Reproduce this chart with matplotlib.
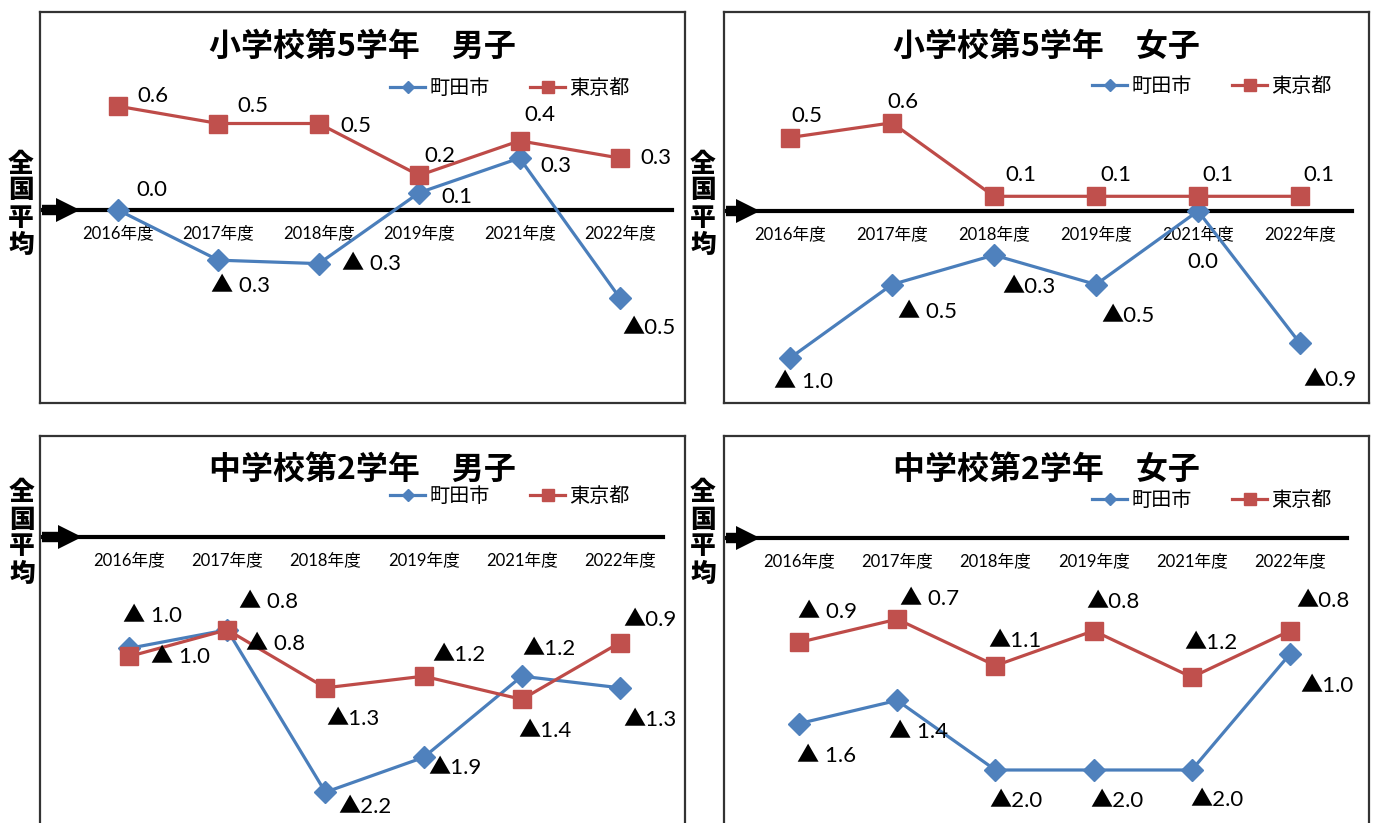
import matplotlib
matplotlib.use('Agg')
import matplotlib.pyplot as plt

plt.rcParams['font.family'] = ['Lato', 'Noto Sans CJK JP', 'DejaVu Sans']

# ---------------- data ----------------
years = ['2016年度', '2017年度', '2018年度', '2019年度', '2021年度', '2022年度']
series_names = ['町田市', '東京都']
titles = ['小学校第5学年　男子', '小学校第5学年　女子',
          '中学校第2学年　男子', '中学校第2学年　女子']
side_label = '全国平均'

e5_boys_machida = [0.0, -0.29, -0.31, 0.1, 0.3, -0.51]
e5_boys_tokyo = [0.6, 0.5, 0.5, 0.2, 0.4, 0.3]
e5_girls_machida = [-1.0, -0.5, -0.3, -0.5, 0.0, -0.9]
e5_girls_tokyo = [0.5, 0.6, 0.1, 0.1, 0.1, 0.1]
j2_boys_machida = [-0.96, -0.8, -2.2, -1.9, -1.2, -1.3]
j2_boys_tokyo = [-1.03, -0.8, -1.3, -1.2, -1.4, -0.91]
j2_girls_machida = [-1.6, -1.4, -2.0, -2.0, -2.0, -1.0]
j2_girls_tokyo = [-0.9, -0.7, -1.1, -0.8, -1.2, -0.8]

e5_boys_machida_lbl = ['0.0', '▲ 0.3', '▲ 0.3', '0.1', '0.3', '▲0.5']
e5_boys_tokyo_lbl = ['0.6', '0.5', '0.5', '0.2', '0.4', '0.3']
e5_girls_machida_lbl = ['▲ 1.0', '▲ 0.5', '▲0.3', '▲0.5', '0.0', '▲0.9']
e5_girls_tokyo_lbl = ['0.5', '0.6', '0.1', '0.1', '0.1', '0.1']
j2_boys_machida_lbl = ['▲ 1.0', '▲ 0.8', '▲2.2', '▲1.9', '▲1.2', '▲1.3']
j2_boys_tokyo_lbl = ['▲ 1.0', '▲ 0.8', '▲1.3', '▲1.2', '▲1.4', '▲0.9']
j2_girls_machida_lbl = ['▲ 1.6', '▲ 1.4', '▲2.0', '▲2.0', '▲2.0', '▲1.0']
j2_girls_tokyo_lbl = ['▲ 0.9', '▲ 0.7', '▲1.1', '▲0.8', '▲1.2', '▲0.8']

# ---------------- layout (pixels) ----------------
W, H, DPI = 1375, 823, 100
PT = 72.0 / DPI

panels = [
    dict(title=titles[0], m=e5_boys_machida, t=e5_boys_tokyo,
         ml=e5_boys_machida_lbl, tl=e5_boys_tokyo_lbl,
         frame=(40, 12, 685, 403), x0=118, dx=100.4, zero=210, scale=173,
         zend=672, tip=80, title_y=47, leg=(510, 88), side=(21, 204), hide_bottom=False,
         moff=[(34, 20), (22, -26), (53, 0), (38, -4), (36, -8), (29, -30)],
         toff=[(35, 10), (34, 17), (37, -3), (21, 19), (20, 26), (36, 0)]),
    dict(title=titles[1], m=e5_girls_machida, t=e5_girls_tokyo,
         ml=e5_girls_machida_lbl, tl=e5_girls_tokyo_lbl,
         frame=(724, 12, 1369, 403), x0=790, dx=102, zero=211, scale=147,
         zend=1352, tip=760, title_y=47, leg=(1212, 86), side=(703, 204), hide_bottom=False,
         moff=[(13, -24), (36, -27), (35, -32), (32, -32), (5, -51), (30, -37)],
         toff=[(17, 21), (11, 21), (27, 21), (20, 21), (20, 21), (19, 21)]),
    dict(title=titles[2], m=j2_boys_machida, t=j2_boys_tokyo,
         ml=j2_boys_machida_lbl, tl=j2_boys_tokyo_lbl,
         frame=(40, 436, 685, 823), x0=129, dx=98.2, zero=537, scale=116,
         zend=663, tip=82, title_y=470, leg=(510, 496), side=(22, 533), hide_bottom=True,
         moff=[(23, 32), (41, 28), (40, -15), (31, -11), (27, 27), (30, -32)],
         toff=[(51, -1), (48, -14), (28, -31), (35, 21), (23, -32), (30, 23)]),
    dict(title=titles[3], m=j2_girls_machida, t=j2_girls_tokyo,
         ml=j2_girls_machida_lbl, tl=j2_girls_tokyo_lbl,
         frame=(724, 436, 1369, 823), x0=799, dx=98.2, zero=538, scale=116,
         zend=1347, tip=760, title_y=470, leg=(1212, 500), side=(703, 533), hide_bottom=True,
         moff=[(28, -32), (21, -32), (21, -31), (23, -31), (25, -30), (37, -32)],
         toff=[(29, 30), (32, 20), (20, 25), (19, 29), (19, 34), (33, 30)]),
]

BLUE_L, BLUE_M = '#4A7EBB', '#4F81BD'
RED_L, RED_M = '#BE4B48', '#C0504D'

fig = plt.figure(figsize=(W / DPI, H / DPI), dpi=DPI)
fig.patch.set_facecolor('white')

xs = list(range(len(years)))

for p in panels:
    l, t, r, b = p['frame']
    ax = fig.add_axes([l / W, 1 - b / H, (r - l) / W, (b - t) / H])
    ax.set_xlim(-(p['x0'] - l) / p['dx'], (r - p['x0']) / p['dx'])
    ax.set_ylim(-(b - p['zero']) / p['scale'], (p['zero'] - t) / p['scale'])
    ax.set_xticks([])
    ax.set_yticks([])
    for s in ax.spines.values():
        s.set_color('#333333')
        s.set_linewidth(1.6)
    if p['hide_bottom']:
        ax.spines['bottom'].set_visible(False)

    # zero line (national average) with arrow
    ax.axhline(0, xmin=0.0, xmax=(p['zend'] - l) / (r - l), color='black', lw=3.0, zorder=2)
    head_base = p['tip'] - 23
    ax.axhline(0, xmin=0.003, xmax=(head_base + 1 - l) / (r - l), color='black', lw=7.5,
               solid_capstyle='butt', zorder=2)
    xlo, xhi = ax.get_xlim()
    head_center = xlo + (p['tip'] - 12 - l) / (r - l) * (xhi - xlo)
    ax.plot([head_center], [0], marker='>', ms=17.5, mew=0, color='black',
            clip_on=False, zorder=3)

    # series
    lm, = ax.plot(xs, p['m'], color=BLUE_L, lw=2.3, marker='D', ms=11,
                  mfc=BLUE_M, mec=BLUE_M, zorder=4, label=series_names[0])
    lt, = ax.plot(xs, p['t'], color=RED_L, lw=2.3, marker='s', ms=13.5,
                  mfc=RED_M, mec=RED_M, zorder=5, label=series_names[1])

    # data labels
    for i in xs:
        ax.annotate(p['ml'][i], (i, p['m'][i]), xytext=(p['moff'][i][0] * PT, p['moff'][i][1] * PT),
                    textcoords='offset points', ha='center', va='center', fontsize=16, zorder=6)
        ax.annotate(p['tl'][i], (i, p['t'][i]), xytext=(p['toff'][i][0] * PT, p['toff'][i][1] * PT),
                    textcoords='offset points', ha='center', va='center', fontsize=16, zorder=6)

    # category labels on the zero line
    zf = (b - p['zero']) / (b - t)
    sec = ax.secondary_xaxis(zf)
    sec.set_alignment('bottom')
    sec.set_xticks(xs, years)
    sec.tick_params(length=0, pad=11, labelsize=12)
    for s in sec.spines.values():
        s.set_visible(False)

    # title
    ax.text(0.5, (b - p['title_y']) / (b - t), p['title'], transform=ax.transAxes,
            ha='center', va='center', fontsize=23, fontweight='bold',
            family=['Noto Sans CJK JP'])

    # legend
    cx, cy = p['leg']
    ax.legend(handles=[lm, lt], loc='center', bbox_to_anchor=(cx / W, 1 - cy / H),
              bbox_transform=fig.transFigure, ncol=2, frameon=False, fontsize=14.5,
              handlelength=1.75, handletextpad=0.2, columnspacing=2.0, markerscale=0.6,
              borderpad=0, borderaxespad=0)

    # vertical side label
    sx, sy = p['side']
    for k, ch in enumerate(side_label):
        yy = sy + (k - 1.5) * 27
        fig.text(sx / W, 1 - yy / H, ch, ha='center', va='center', fontsize=18.5,
                 fontweight='heavy', family=['Noto Sans CJK JP'])

fig.savefig('out.png', dpi=DPI)
